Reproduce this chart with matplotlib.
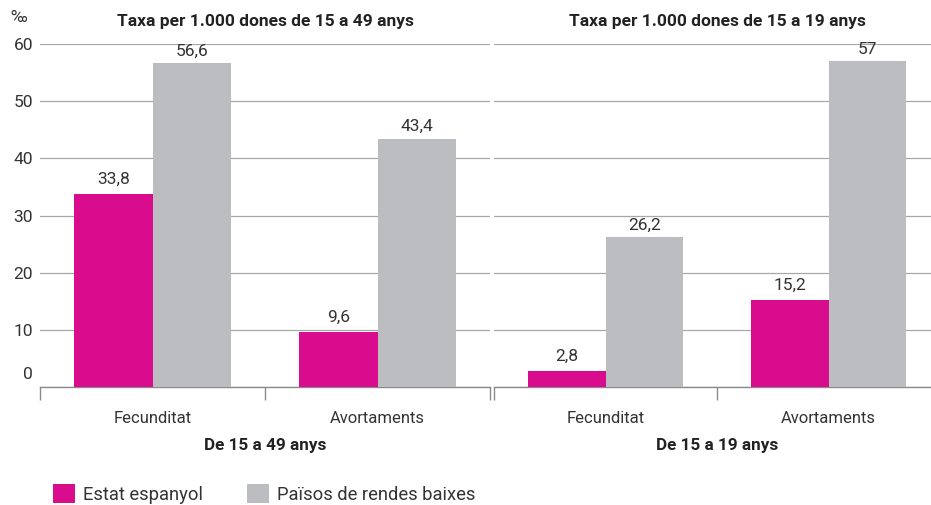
import matplotlib.pyplot as plt
import matplotlib.transforms as mtransforms
from matplotlib.patches import Patch

plt.rcParams["font.family"] = ["Roboto", "DejaVu Sans"]

categories = ["Fecunditat", "Avortaments"]
panel_titles = [
    "Taxa per 1.000 dones de 15 a 49 anys",
    "Taxa per 1.000 dones de 15 a 19 anys"
]
group_labels = ["De 15 a 49 anys", "De 15 a 19 anys"]

spain_49 = [33.8, 9.6]
low_income_49 = [56.6, 43.4]
spain_19 = [2.8, 15.2]
low_income_19 = [26.2, 57]

series_names = ["Estat espanyol", "Països de rendes baixes"]
yticks = [0, 10, 20, 30, 40, 50, 60]

MAGENTA = "#D90C8E"
GREY = "#BCBDC0"
GRID = "#A8A8A8"
TEXT = "#333333"


def fmt(v):
    s = f"{v:g}"
    return s.replace(".", ",")


fig = plt.figure(figsize=(9.31, 5.05), dpi=100)

W, H = 931, 505
ax1 = fig.add_axes([40 / W, (H - 387) / H, 450 / W, 343 / H])
ax2 = fig.add_axes([494 / W, (H - 387) / H, 446 / W, 343 / H])

panels = [
    (ax1, spain_49, low_income_49, panel_titles[0], group_labels[0]),
    (ax2, spain_19, low_income_19, panel_titles[1], group_labels[1]),
]

bw = 0.348

for ax, a, b, title, glabel in panels:
    x = [i + 0.5 for i in range(len(categories))]
    ax.bar([xi - bw / 2 for xi in x], a, width=bw, color=MAGENTA, zorder=3)
    ax.bar([xi + bw / 2 for xi in x], b, width=bw, color=GREY, zorder=3)
    for xi, v in zip(x, a):
        ax.text(xi - bw / 2, v + 1.3, fmt(v), ha="center", va="bottom",
                fontsize=12.5, color=TEXT, zorder=4)
    for xi, v in zip(x, b):
        ax.text(xi + bw / 2, v + 0.8, fmt(v), ha="center", va="bottom",
                fontsize=12.5, color=TEXT, zorder=4)

    ax.set_xlim(0, 2)
    ax.set_ylim(0, 60)
    ax.set_yticks(yticks)
    ax.yaxis.grid(True, color=GRID, linewidth=0.9, zorder=0)
    ax.set_axisbelow(True)
    for s in ["left", "right", "top"]:
        ax.spines[s].set_visible(False)
    ax.spines["bottom"].set_color("#8A8A8A")
    ax.spines["bottom"].set_linewidth(1.0)

    ax.set_xticks([0, 1, 2])
    ax.set_xticklabels([])
    ax.set_xticks(x, minor=True)
    ax.set_xticklabels(categories, minor=True, fontsize=12, color=TEXT)
    ax.tick_params(axis="x", which="major", length=9, width=1.0,
                   color="#8A8A8A", direction="out")
    ax.tick_params(axis="x", which="minor", length=0, pad=17)

    ax.set_title(title, fontsize=12.5, fontweight="bold", color="#222222",
                 pad=13)
    ax.set_xlabel(glabel, fontsize=12.3, fontweight="bold",
                  color="#222222", labelpad=9)

ax1.tick_params(axis="y", length=0, pad=5, labelsize=12.5, labelcolor=TEXT)
ax2.tick_params(axis="y", length=0, labelleft=False)

# lift the zero label off the axis line
lbls = ax1.get_yticklabels()
lbls[0].set_transform(lbls[0].get_transform() +
                      mtransforms.ScaledTranslation(0, 14 / 100,
                                                    fig.dpi_scale_trans))

fig.text(10 / W, 1 - 18 / H, "‰", fontsize=12.5, color=TEXT,
         ha="left", va="center")

handles = [Patch(facecolor=MAGENTA, edgecolor="none"),
           Patch(facecolor=GREY, edgecolor="none")]
fig.legend(handles, series_names, loc="center left",
           bbox_to_anchor=(36 / W, 1 - 494 / H), ncol=2, frameon=False,
           fontsize=13.2, handlelength=1.2, handleheight=1.2,
           handletextpad=0.45, columnspacing=2.4, labelcolor=TEXT)

fig.savefig("out.png", dpi=100)
plt.close()
